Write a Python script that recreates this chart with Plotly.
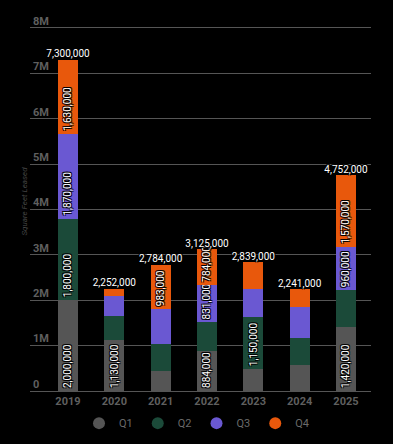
import plotly.graph_objects as go

years = ["2019", "2020", "2021", "2022", "2023", "2024", "2025"]
q1 = [2000000, 1130000, 440000, 884000, 480000, 570000, 1420000]
q2 = [1800000, 530000, 590000, 626000, 1150000, 600000, 802000]
q3 = [1870000, 440000, 771000, 831000, 620000, 680000, 960000]
q4 = [1630000, 152000, 983000, 784000, 589000, 391000, 1570000]
totals = [7300000, 2252000, 2784000, 3125000, 2839000, 2241000, 4752000]

# which segments carry an inside label
q1_lab = [True, True, False, True, False, False, True]
q2_lab = [True, False, False, False, True, False, False]
q3_lab = [True, False, False, True, False, False, True]
q4_lab = [True, False, True, True, False, False, True]

series = ["Q1", "Q2", "Q3", "Q4"]
colors = ["#555555", "#1b4a39", "#6a58d2", "#e8580c"]
tick_vals = [0, 1000000, 2000000, 3000000, 4000000, 5000000, 6000000, 7000000, 8000000]
tick_text = ["0", "1M", "2M", "3M", "4M", "5M", "6M", "7M", "8M"]

shadow = "-1px -1px 0 #000, 1px -1px 0 #000, -1px 1px 0 #000, 1px 1px 0 #000"

fig = go.Figure()
for name, vals, labs, col in zip(series, [q1, q2, q3, q4], [q1_lab, q2_lab, q3_lab, q4_lab], colors):
    fig.add_trace(go.Bar(
        x=years, y=vals, name=name, marker=dict(color=col, line=dict(width=0)),
        text=[f"{v:,}" if l else "" for v, l in zip(vals, labs)],
        textposition="inside", insidetextanchor="start", textangle=-90,
        textfont=dict(family="Roboto", size=10, color="white", shadow=shadow),
        constraintext="none", width=0.43, showlegend=False, hoverinfo="skip",
    ))
    fig.add_trace(go.Scatter(
        x=[None], y=[None], mode="markers", name=name,
        marker=dict(symbol="circle", size=12, color=col), showlegend=True,
    ))

fig.add_trace(go.Scatter(
    x=years, y=totals, mode="text", text=[f"{t:,}" for t in totals],
    textposition="top center",
    textfont=dict(family="Roboto", size=10, color="white", shadow=shadow),
    showlegend=False, hoverinfo="skip",
))

# axis top slightly above 8M so the raised 8M label stays visible;
# top margin chosen so that the 8M gridline sits at the same height
y_top = 8350000
plot_h = 363 * y_top / 8000000
top_margin = 444 - 53 - plot_h

fig.update_layout(
    width=393, height=444, barmode="stack",
    paper_bgcolor="black", plot_bgcolor="black",
    margin=dict(l=30, r=22, t=top_margin, b=53, autoexpand=False),
    font=dict(family="Roboto", color="#5f5f5f"),
    legend=dict(orientation="h", xref="container", yref="container",
                x=0.5, xanchor="center", y=0.047, yanchor="middle",
                traceorder="normal",
                font=dict(family="Roboto", size=11, color="#6a6a6a"),
                itemwidth=30, tracegroupgap=0),
    xaxis=dict(type="category", range=[-0.82, 6.54], showgrid=False,
               showline=True, linecolor="#555555", linewidth=1, ticks="",
               tickfont=dict(family="Roboto", size=11, color="#5f5f5f", weight="bold")),
    yaxis=dict(range=[0, y_top], tickvals=tick_vals, ticktext=tick_text,
               showgrid=True, gridcolor="#555555", gridwidth=1, zeroline=False,
               ticklabelposition="inside", ticklabelshift=-7, ticks="",
               tickfont=dict(family="Roboto", size=11, color="#5f5f5f", weight="bold"),
               title=dict(text="Square Feet Leased", standoff=4,
                          font=dict(family="Roboto", size=8, color="#444444", style="italic"))),
)

fig.write_html("out.html", config={"displayModeBar": False},
               post_script="document.body.style.margin='0';document.body.style.background='black';")
